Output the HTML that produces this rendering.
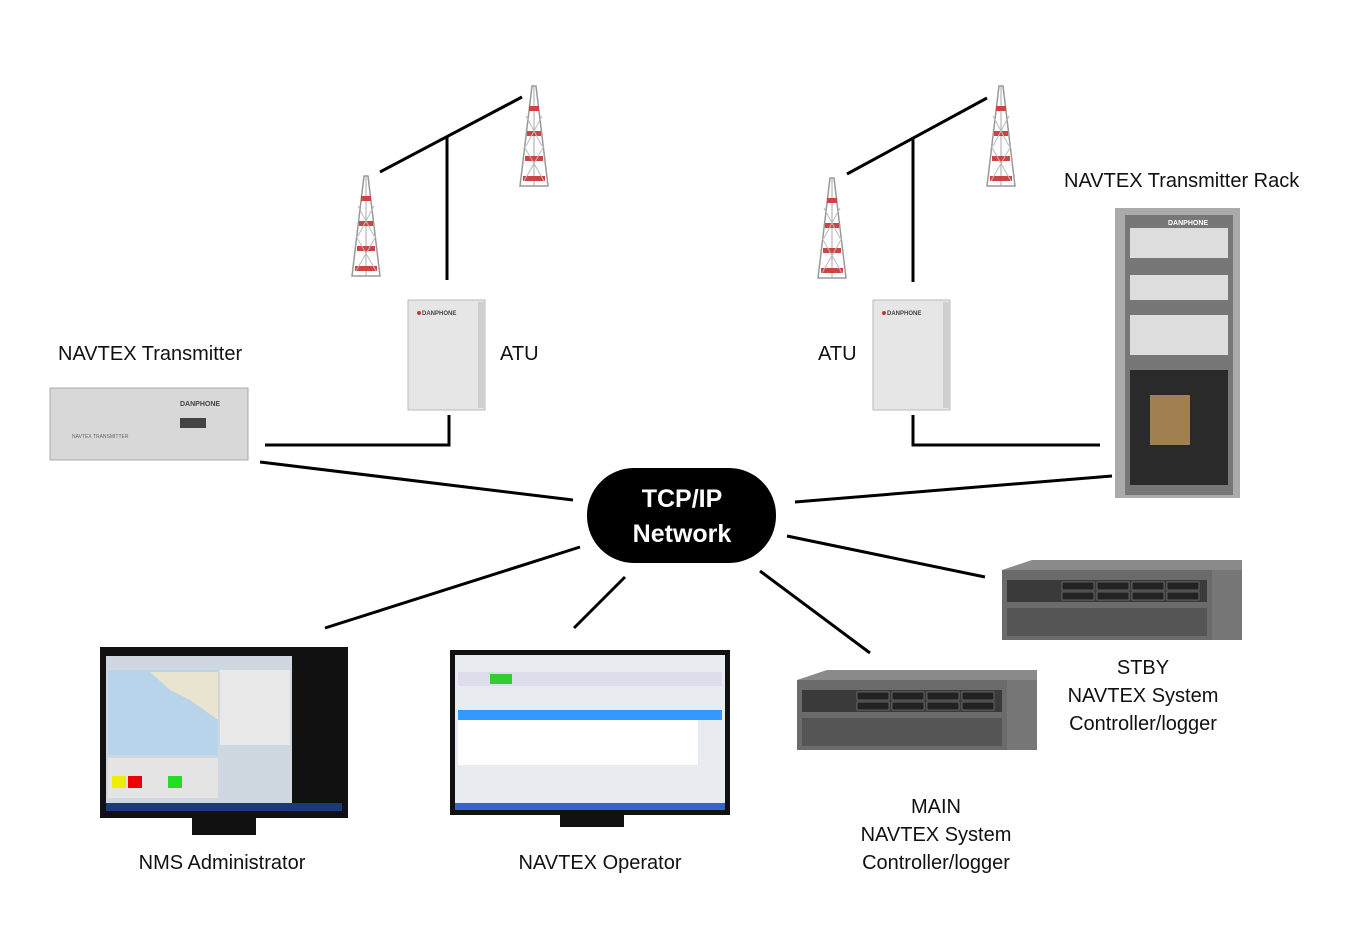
<!DOCTYPE html>
<html><head><meta charset="utf-8"><style>
html,body{margin:0;padding:0;background:#fff;}
svg{display:block;font-family:"Liberation Sans",sans-serif;}
</style></head><body>
<svg width="1350" height="950" viewBox="0 0 1350 950" xmlns="http://www.w3.org/2000/svg">
<defs>
<g id="tower">
 <polygon points="12,0 16,0 28,100 0,100" fill="none" stroke="#999" stroke-width="1.5"/>
 <line x1="14" y1="0" x2="14" y2="100" stroke="#aaa" stroke-width="1"/>
 <rect x="9" y="20" width="10" height="5" fill="#c44"/>
 <rect x="7" y="45" width="14" height="5" fill="#c44"/>
 <rect x="5" y="70" width="18" height="5" fill="#c44"/>
 <rect x="3" y="90" width="22" height="5" fill="#c44"/>
 <path d="M4,95 L24,60 M24,95 L4,60 M6,60 L22,30 M22,60 L6,30" stroke="#bbb" stroke-width="1"/>
</g>
<g id="atu">
 <rect x="0" y="0" width="77" height="110" fill="#e6e6e6" stroke="#bbb"/>
 <rect x="70" y="2" width="7" height="106" fill="#cfcfcf"/>
 <text x="14" y="15" font-size="6" font-weight="bold" fill="#444">DANPHONE</text>
 <circle x="0" cx="11" cy="13" r="2" fill="#c33"/>
</g>
<g id="server">
 <polygon points="0,10 30,0 240,0 240,60 210,80 0,80" fill="#8a8a8a"/>
 <rect x="0" y="10" width="210" height="70" fill="#6b6b6b"/>
 <rect x="5" y="20" width="200" height="22" fill="#3a3a3a"/>
 <rect x="5" y="48" width="200" height="28" fill="#555"/>
 <g fill="#222" stroke="#888" stroke-width="0.6">
  <rect x="60" y="22" width="32" height="8"/><rect x="95" y="22" width="32" height="8"/><rect x="130" y="22" width="32" height="8"/><rect x="165" y="22" width="32" height="8"/>
  <rect x="60" y="32" width="32" height="8"/><rect x="95" y="32" width="32" height="8"/><rect x="130" y="32" width="32" height="8"/><rect x="165" y="32" width="32" height="8"/>
 </g>
 <rect x="210" y="10" width="30" height="70" fill="#777"/>
</g>
</defs>

<!-- towers -->
<use href="#tower" x="352" y="176"/>
<use href="#tower" x="520" y="86"/>
<use href="#tower" x="818" y="178"/>
<use href="#tower" x="987" y="86"/>

<g stroke="#000" stroke-width="3" fill="none">
 <line x1="380" y1="172" x2="522" y2="97"/>
 <line x1="447" y1="137" x2="447" y2="280"/>
 <line x1="847" y1="174" x2="987" y2="98"/>
 <line x1="913" y1="137" x2="913" y2="282"/>
 <polyline points="265,445 449,445 449,415"/>
 <polyline points="913,415 913,445 1100,445"/>
 <line x1="260" y1="462" x2="573" y2="500"/>
 <line x1="795" y1="502" x2="1112" y2="476"/>
 <line x1="580" y1="547" x2="325" y2="628"/>
 <line x1="625" y1="577" x2="574" y2="628"/>
 <line x1="760" y1="571" x2="870" y2="653"/>
 <line x1="787" y1="536" x2="985" y2="577"/>
</g>

<use href="#atu" x="408" y="300"/>
<use href="#atu" x="873" y="300"/>

<!-- transmitter -->
<rect x="50" y="388" width="198" height="72" fill="#d8d8d8" stroke="#aaa"/>
<rect x="180" y="418" width="26" height="10" fill="#444"/>
<text x="180" y="406" font-size="7" font-weight="bold" fill="#444">DANPHONE</text>
<text x="72" y="438" font-size="5" fill="#666">NAVTEX TRANSMITTER</text>

<!-- rack -->
<rect x="1115" y="208" width="125" height="290" fill="#aaa"/>
<rect x="1125" y="215" width="108" height="280" fill="#777"/>
<rect x="1130" y="228" width="98" height="30" fill="#ddd"/>
<rect x="1130" y="275" width="98" height="25" fill="#ddd"/>
<rect x="1130" y="315" width="98" height="40" fill="#ddd"/>
<rect x="1130" y="370" width="98" height="115" fill="#2a2a2a"/>
<rect x="1150" y="395" width="40" height="50" fill="#a08050"/>
<text x="1168" y="225" font-size="7" font-weight="bold" fill="#fff">DANPHONE</text>

<!-- network -->
<rect x="587" y="468" width="189" height="95" rx="47" fill="#000"/>
<text x="682" y="507" font-size="25" font-weight="bold" fill="#fff" text-anchor="middle">TCP/IP</text>
<text x="682" y="542" font-size="25" font-weight="bold" fill="#fff" text-anchor="middle">Network</text>

<use href="#server" x="1002" y="560"/>
<use href="#server" x="797" y="670"/>

<!-- NMS monitor -->
<rect x="100" y="647" width="248" height="171" fill="#111"/>
<rect x="106" y="656" width="236" height="155" fill="#cfd8e0"/>
<rect x="108" y="670" width="110" height="85" fill="#b8d4ea"/>
<path d="M150,672 L218,672 L218,720 L190,700 L170,690 Z" fill="#e8e4d0"/>
<rect x="220" y="670" width="70" height="75" fill="#e8e8e8"/>
<rect x="292" y="656" width="50" height="155" fill="#111"/>
<rect x="108" y="758" width="110" height="40" fill="#e4e4e4"/>
<rect x="112" y="776" width="14" height="12" fill="#ee0"/><rect x="128" y="776" width="14" height="12" fill="#e00"/>
<rect x="168" y="776" width="14" height="12" fill="#2d2"/>
<rect x="106" y="803" width="236" height="8" fill="#1a3a7a"/>
<rect x="192" y="818" width="64" height="17" fill="#111"/>

<!-- Operator monitor -->
<rect x="450" y="650" width="280" height="165" fill="#111"/>
<rect x="455" y="655" width="270" height="155" fill="#e8ecf0"/>
<rect x="458" y="672" width="264" height="14" fill="#dde"/>
<rect x="490" y="674" width="22" height="10" fill="#3c3"/>
<rect x="458" y="710" width="264" height="10" fill="#39f"/>
<rect x="458" y="720" width="240" height="45" fill="#fff"/>
<rect x="455" y="803" width="270" height="7" fill="#36c"/>
<rect x="560" y="815" width="64" height="12" fill="#111"/>

<g font-size="20" fill="#111">
<text x="58" y="360">NAVTEX Transmitter</text>
<text x="500" y="360">ATU</text>
<text x="818" y="360">ATU</text>
<text x="1064" y="187">NAVTEX Transmitter Rack</text>
<g text-anchor="middle">
<text x="1143" y="674">STBY</text>
<text x="1143" y="702">NAVTEX System</text>
<text x="1143" y="730">Controller/logger</text>
<text x="936" y="813">MAIN</text>
<text x="936" y="841">NAVTEX System</text>
<text x="936" y="869">Controller/logger</text>
<text x="222" y="869">NMS Administrator</text>
<text x="600" y="869">NAVTEX Operator</text>
</g>
</g>
</svg>
</body></html>
